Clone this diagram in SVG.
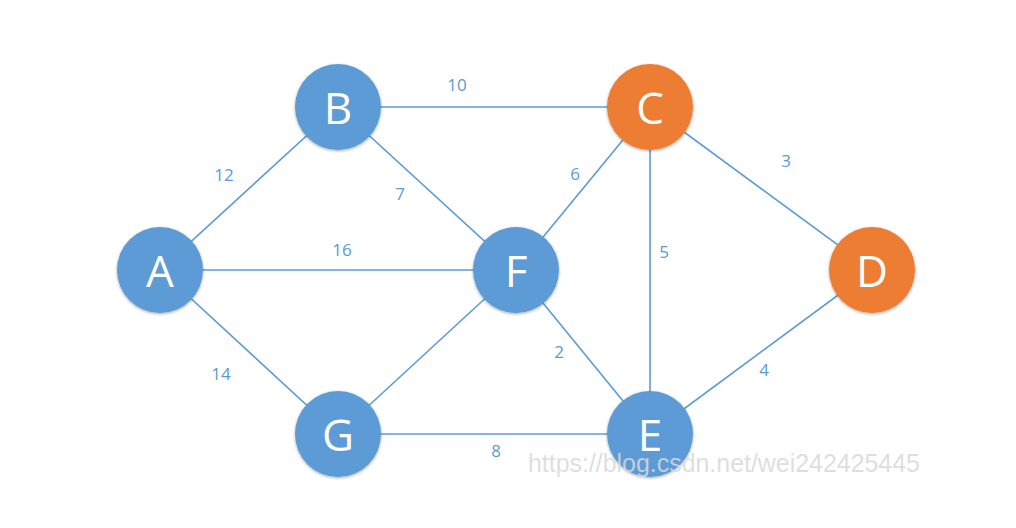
<svg xmlns="http://www.w3.org/2000/svg" width="1016" height="528" viewBox="0 0 1016 528">
<style>
.edge{stroke:#5B9BD5;stroke-width:1.6;fill:none}
.lbl{font-family:"Open Sans","Liberation Sans",sans-serif;font-size:17px;fill:#5B9BD5;text-anchor:middle;dominant-baseline:central}
.blue{fill:#5B9BD5}
.orange{fill:#ED7D31}
.nt{font-family:"Open Sans","Liberation Sans",sans-serif;font-size:44px;fill:#FFFFFF;text-anchor:middle;dominant-baseline:central}
.wm{font-family:"Liberation Sans",Arial,sans-serif;font-size:25px;fill:#D9D9D9;fill-opacity:0.85}
</style>
<defs>
<filter id="sh" x="-20%" y="-20%" width="140%" height="140%">
<feGaussianBlur in="SourceAlpha" stdDeviation="1.5"/>
<feOffset dy="1" result="b"/>
<feComponentTransfer><feFuncA type="linear" slope="0.35"/></feComponentTransfer>
<feMerge><feMergeNode/><feMergeNode in="SourceGraphic"/></feMerge>
</filter>
</defs>
<rect width="1016" height="528" fill="#FFFFFF"/>
<g id="connectors">
<line class="edge" x1="160" y1="270" x2="338" y2="107"/>
<line class="edge" x1="160" y1="270" x2="516" y2="270"/>
<line class="edge" x1="160" y1="270" x2="338" y2="434"/>
<line class="edge" x1="338" y1="107" x2="650" y2="107"/>
<line class="edge" x1="338" y1="107" x2="516" y2="270"/>
<line class="edge" x1="650" y1="107" x2="516" y2="270"/>
<line class="edge" x1="650" y1="107" x2="650" y2="434"/>
<line class="edge" x1="650" y1="107" x2="872" y2="270"/>
<line class="edge" x1="872" y1="270" x2="650" y2="434"/>
<line class="edge" x1="516" y1="270" x2="650" y2="434"/>
<line class="edge" x1="516" y1="270" x2="338" y2="434"/>
<line class="edge" x1="338" y1="434" x2="650" y2="434"/>
</g>
<g id="edge-labels">
<text class="lbl" x="457" y="84">10</text>
<text class="lbl" x="224" y="174">12</text>
<text class="lbl" x="400" y="193">7</text>
<text class="lbl" x="342" y="249">16</text>
<text class="lbl" x="575" y="173">6</text>
<text class="lbl" x="786" y="160">3</text>
<text class="lbl" x="664" y="251">5</text>
<text class="lbl" x="221" y="373">14</text>
<text class="lbl" x="559" y="351">2</text>
<text class="lbl" x="764" y="369">4</text>
<text class="lbl" x="496" y="450">8</text>
</g>
<g id="node-A"><circle class="blue" cx="160" cy="270" r="43" filter="url(#sh)"/><text class="nt" x="160" y="270">A</text></g>
<g id="node-B"><circle class="blue" cx="338" cy="107" r="43" filter="url(#sh)"/><text class="nt" x="338" y="107">B</text></g>
<g id="node-C"><circle class="orange" cx="650" cy="107" r="43" filter="url(#sh)"/><text class="nt" x="650" y="107">C</text></g>
<g id="node-D"><circle class="orange" cx="872" cy="270" r="43" filter="url(#sh)"/><text class="nt" x="872" y="270">D</text></g>
<g id="node-E"><circle class="blue" cx="650" cy="434" r="43" filter="url(#sh)"/><text class="nt" x="650" y="434">E</text></g>
<g id="node-F"><circle class="blue" cx="516" cy="270" r="43" filter="url(#sh)"/><text class="nt" x="516" y="270">F</text></g>
<g id="node-G"><circle class="blue" cx="338" cy="434" r="43" filter="url(#sh)"/><text class="nt" x="338" y="434">G</text></g>
<text class="wm" x="528" y="472" textLength="392">https://blog.csdn.net/wei242425445</text>
</svg>
